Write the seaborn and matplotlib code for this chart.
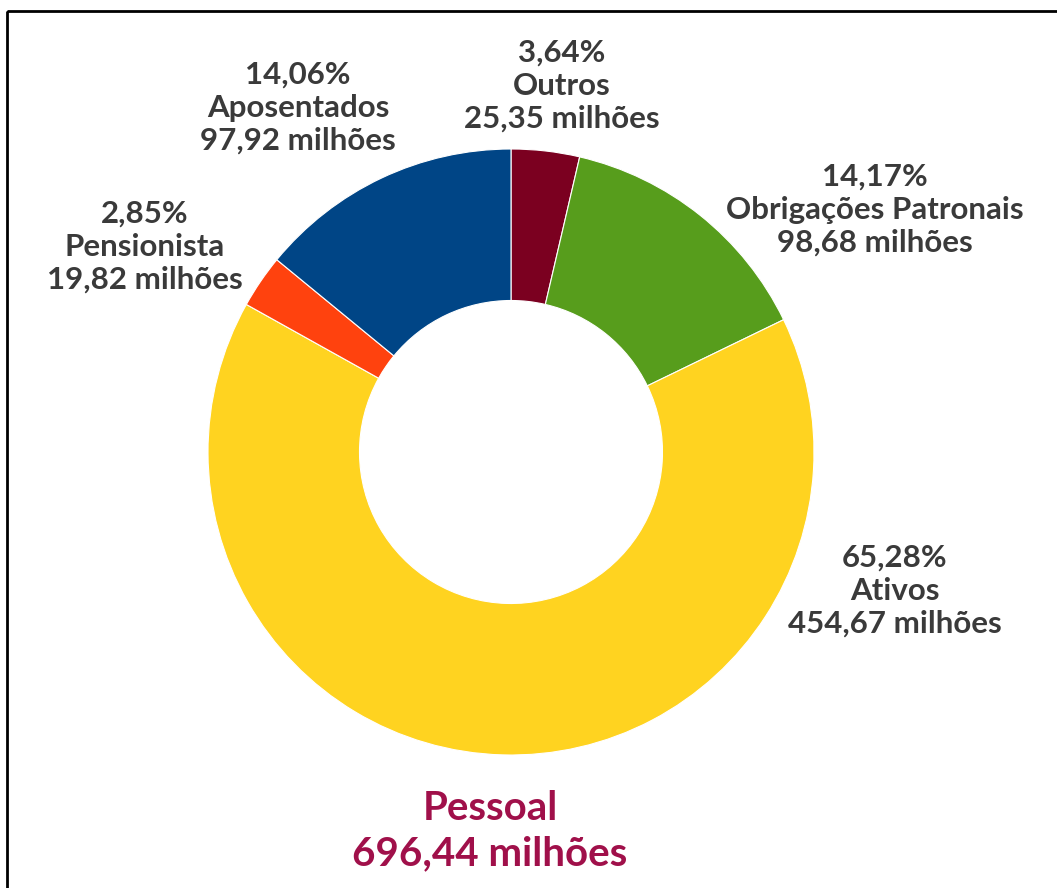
import matplotlib
matplotlib.use("Agg")
import matplotlib.pyplot as plt
import matplotlib.patches as mpatches
import seaborn as sns

categories = ["Outros", "Obrigações Patronais", "Ativos", "Pensionista", "Aposentados"]
percents = ["3,64%", "14,17%", "65,28%", "2,85%", "14,06%"]
values = [25.35, 98.68, 454.67, 19.82, 97.92]
value_labels = ["25,35 milhões", "98,68 milhões", "454,67 milhões", "19,82 milhões", "97,92 milhões"]
colors = ["#7B0020", "#579D1C", "#FFD320", "#FF420E", "#004586"]
total_label = ["Pessoal", "696,44 milhões"]

sns.set_theme(style="white")
plt.rcParams["font.family"] = ["Lato", "DejaVu Sans"]

W, H = 1057, 888
fig = plt.figure(figsize=(W / 100, H / 100), dpi=100)
ax = fig.add_axes([0, 0, 1, 1])

palette = sns.color_palette(colors)
ax.pie(values, colors=palette, startangle=90, counterclock=False,
       radius=1.0, wedgeprops=dict(width=0.5, edgecolor="white", linewidth=0.8))

# pixel -> data mapping: center (511, 452), radius 303 px
cx, cy, R = 511, 452, 303
ax.set_xlim(-cx / R, (W - cx) / R)
ax.set_ylim((cy - H) / R, cy / R)
ax.set_aspect("auto")
ax.axis("off")

def d(px, py):
    return (px - cx) / R, (cy - py) / R

label_pos = [(562, 86), (875, 210), (895, 591), (145, 247), (298, 108)]
for (px, py), pct, cat, vl in zip(label_pos, percents, categories, value_labels):
    x, y = d(px, py)
    ax.text(x, y, f"{pct}\n{cat}\n{vl}", ha="center", va="center",
            fontsize=22.5, fontweight="bold", color="#3A3A3A", linespacing=1.22)

x, y = d(490, 831)
ax.text(x, y, "\n".join(total_label), ha="center", va="center",
        fontsize=29, fontweight="bold", color="#A0104A", linespacing=1.25)

border = mpatches.Rectangle((7 / W, 1 - 11 / H), 1.2, -1.2, transform=fig.transFigure,
                            fill=False, edgecolor="black", linewidth=2, clip_on=False)
fig.patches.append(border)

fig.savefig("out.png", dpi=100)
